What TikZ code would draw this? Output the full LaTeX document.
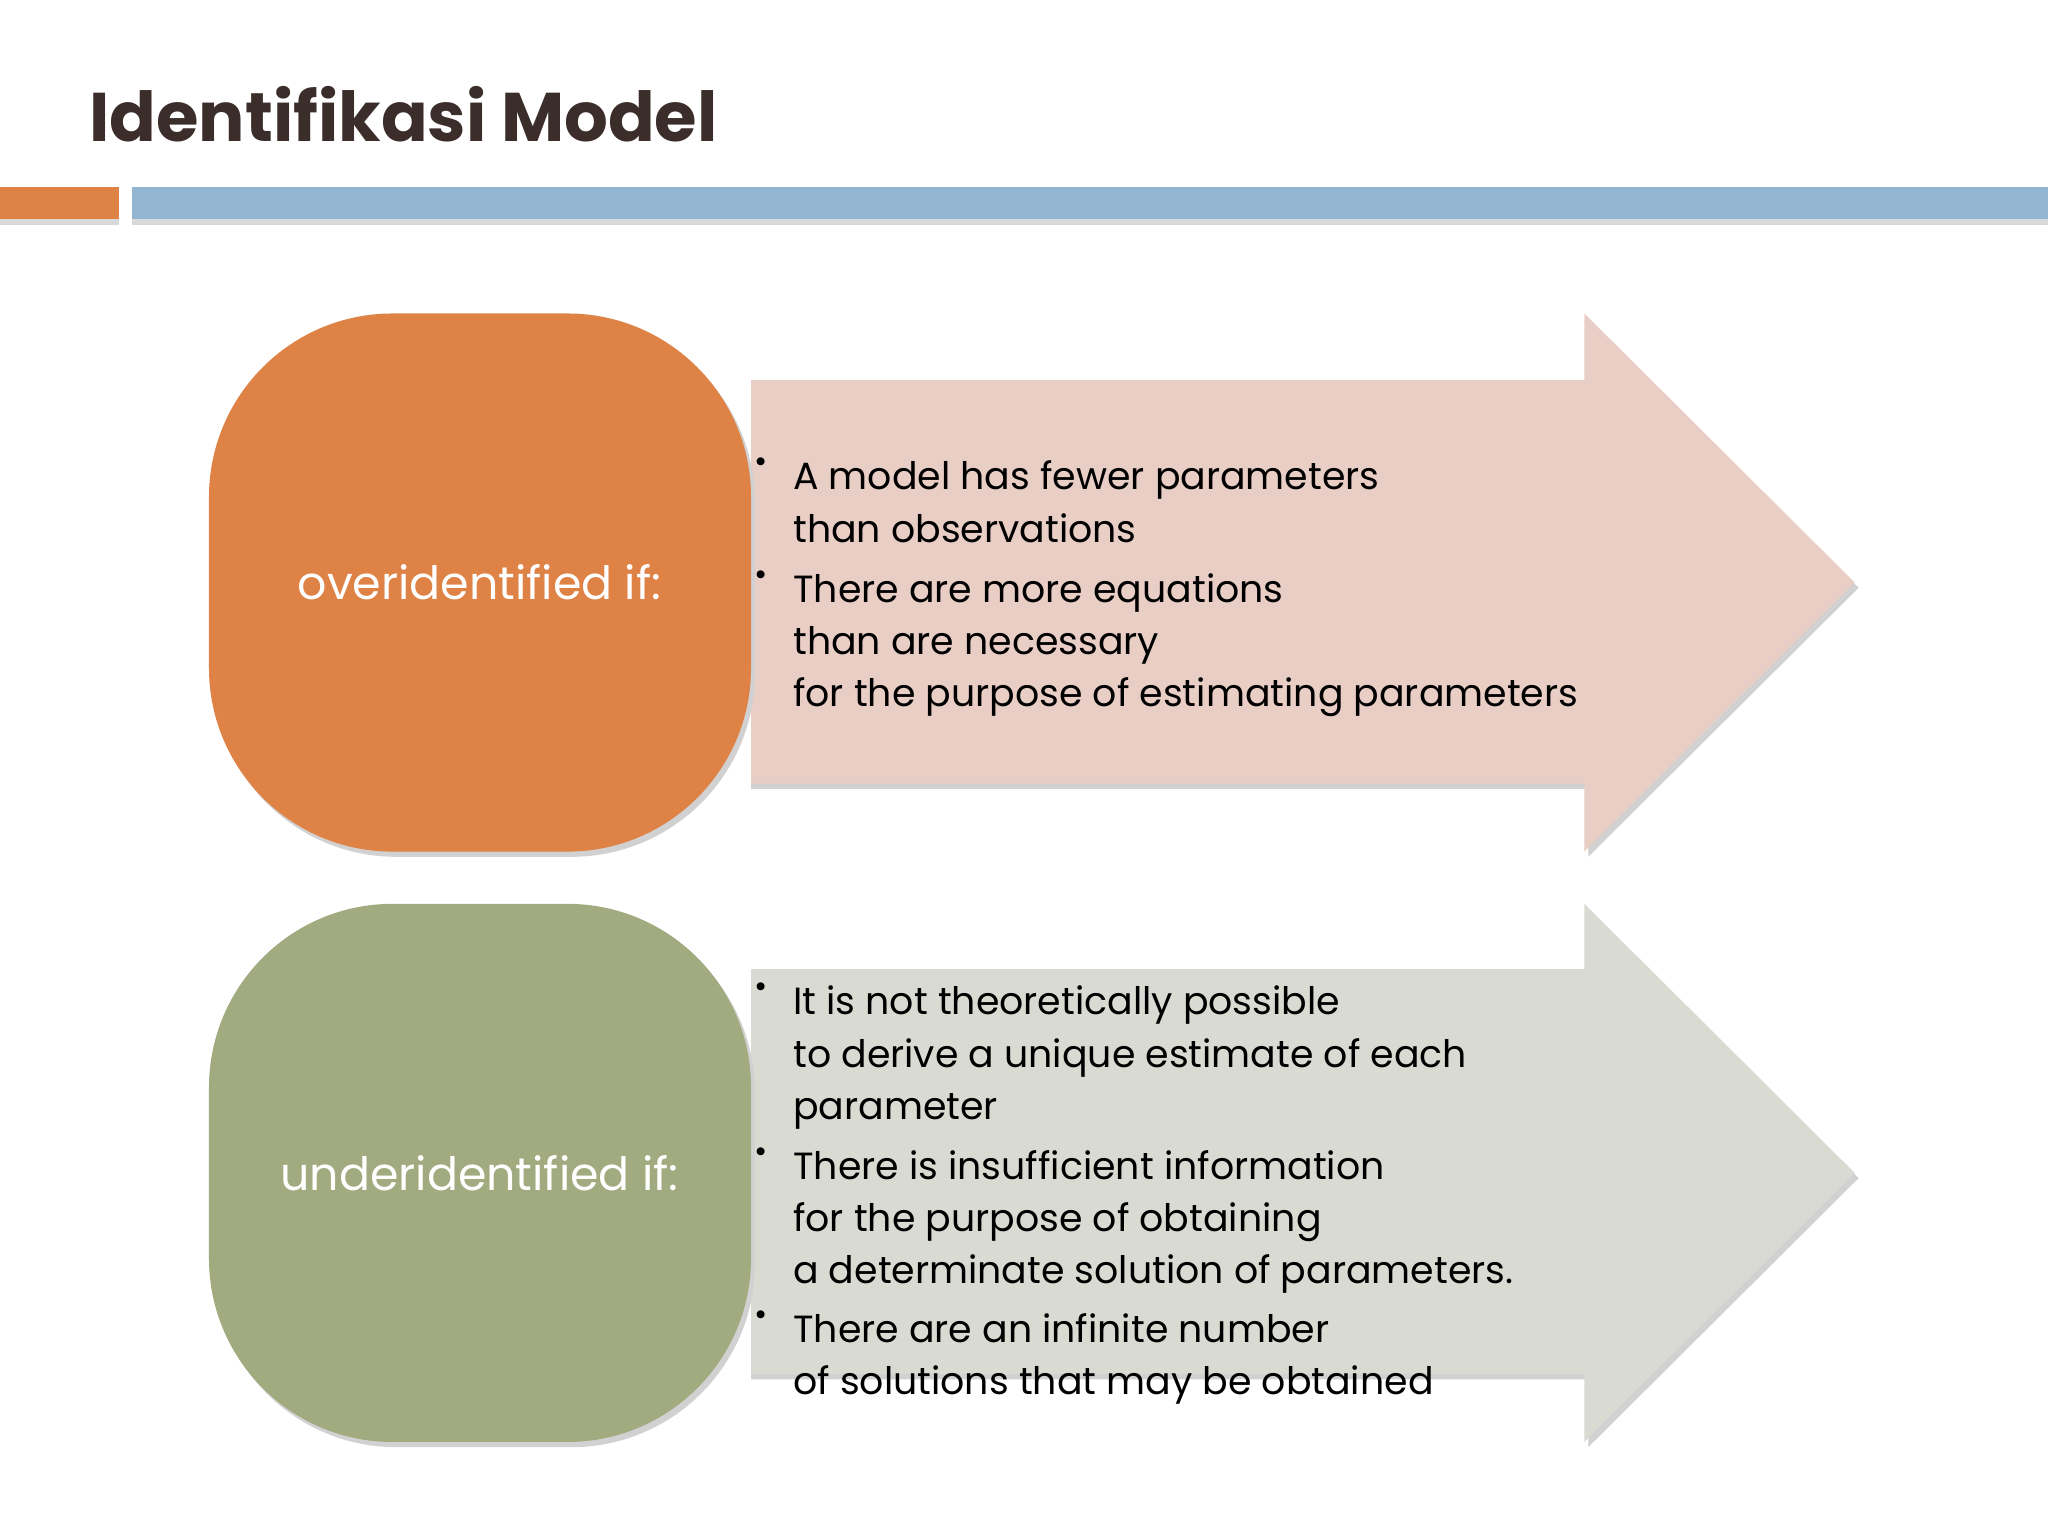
\documentclass[tikz,border=0pt]{standalone}
\usepackage{fontspec}
\setmainfont{Poppins}
\begin{document}
\begin{tikzpicture}[x=0.02cm,y=-0.02cm,
  ln/.style={anchor=base west,inner sep=0pt,font=\fontsize{16.5}{18}\selectfont,text=black},
  bul/.style={anchor=base,inner sep=0pt,font=\fontsize{14}{16}\selectfont},
  lab/.style={text=white,font=\fontsize{20}{22}\selectfont},
  shad/.style={fill=black!18}]
\definecolor{orng}{HTML}{DE8246}\definecolor{pink}{HTML}{E9CEC6}
\definecolor{grn}{HTML}{A2AB80}\definecolor{gry}{HTML}{D9DBD2}
\definecolor{blu}{HTML}{92B5D2}\definecolor{ttl}{HTML}{3B2E2A}
\useasboundingbox (0,0) rectangle (1568,1176);
\fill[white] (0,0) rectangle (1568,1176);
\node[anchor=base west,inner sep=0pt,text=ttl,font=\fontsize{30}{32}\selectfont\bfseries] (title) at (68,108) {Identifikasi Model};
\fill[black!15] (0,146) rectangle (91,172);
\fill[orng] (0,143) rectangle (91,168);
\fill[black!15] (101,146) rectangle (1568,172);
\fill[blu] (101,143) rectangle (1568,168);
% top arrow
\fill[shad] (575,294) -- (1216,294) -- (1216,244) -- (1423,450) -- (1216,656) -- (1216,604) -- (575,604) -- cycle;
\fill[pink] (575,291) -- (1213,291) -- (1213,240) -- (1420,446) -- (1213,652) -- (1213,600) -- (575,600) -- cycle;
\fill[shad,rounded corners=80] (163,244) rectangle (578,656);
\fill[orng,rounded corners=80] (160,240) rectangle (575,652);
\node[lab] (over) at (367,446) {overidentified if:};
% bottom arrow
\fill[shad] (575,746) -- (1216,746) -- (1216,696) -- (1423,902) -- (1216,1108) -- (1216,1056) -- (575,1056) -- cycle;
\fill[gry] (575,742) -- (1213,742) -- (1213,692) -- (1420,898) -- (1213,1104) -- (1213,1052) -- (575,1052) -- cycle;
\fill[shad,rounded corners=80] (163,696) rectangle (578,1108);
\fill[grn,rounded corners=80] (160,692) rectangle (575,1104);
\node[lab] (under) at (367,898) {underidentified if:};
% text top
\node[bul] (b1) at (583,362) {•};
\node[ln] (t1) at (607,375) {A model has fewer parameters};
\node[ln] (t2) at (607,415) {than observations};
\node[bul] (b2) at (583,448) {•};
\node[ln] (t3) at (607,461) {There are more equations};
\node[ln] (t4) at (607,501) {than are necessary};
\node[ln] (t5) at (607,541) {for the purpose of estimating parameters};
% text bottom
\node[bul] (b3) at (583,764) {•};
\node[ln] (u1) at (607,777) {It is not theoretically possible};
\node[ln] (u2) at (607,817) {to derive a unique estimate of each};
\node[ln] (u3) at (607,857) {parameter};
\node[bul] (b4) at (583,890) {•};
\node[ln] (u4) at (607,903) {There is insufficient information};
\node[ln] (u5) at (607,943) {for the purpose of obtaining};
\node[ln] (u6) at (607,983) {a determinate solution of parameters.};
\node[bul] (b5) at (583,1015) {•};
\node[ln] (u7) at (607,1028) {There are an infinite number};
\node[ln] (u8) at (607,1068) {of solutions that may be obtained};
\end{tikzpicture}
\end{document}
